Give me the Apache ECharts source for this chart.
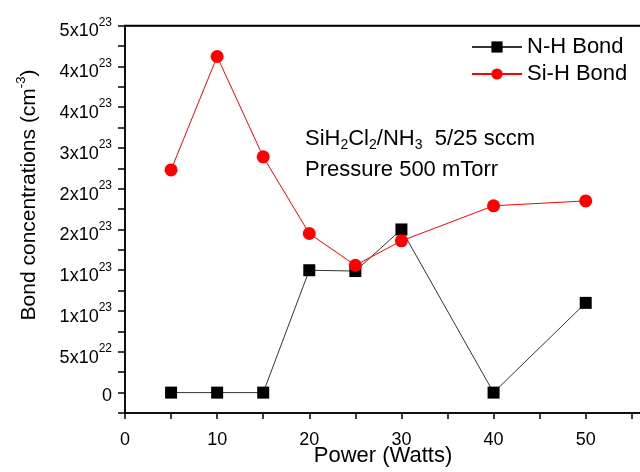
<!DOCTYPE html>
<html>
<head>
<meta charset="utf-8">
<script src="https://cdn.jsdelivr.net/npm/echarts@6/dist/echarts.min.js"></script>
<style>
  html, body { margin: 0; padding: 0; background: #fff; }
  #chart { width: 640px; height: 472px; }
</style>
</head>
<body>
<div id="chart"></div>
<script>
// data, in units of 1e22 cm^-3
const power = [5, 10, 15, 20, 25, 30, 40, 50];
const nhBond = [0, 0, 0, 15.0, 14.9, 20.0, 0, 11.0];
const sihBond = [27.3, 41.2, 28.9, 19.5, 15.6, 18.6, 22.9, 23.5];

// y tick labels as printed (value -> mantissa, exponent)
const yTickValues = [0, 5, 10, 15, 20, 25, 30, 35, 40, 45];
const yTickMant = ['0', '5x10', '1x10', '1x10', '2x10', '2x10', '3x10', '4x10', '4x10', '5x10'];
const yTickExp = ['', '22', '23', '23', '23', '23', '23', '23', '23', '23'];
const xTickLabels = [0, 10, 20, 30, 40, 50];

const FONT = 'Liberation Sans, Arial, sans-serif';

const chart = echarts.init(document.getElementById('chart'));

function pairs(ys) {
  return power.map((x, i) => [x, ys[i]]);
}

const option = {
  animation: false,
  textStyle: { fontFamily: FONT, color: '#000' },
  // right edge pushed just off the canvas so only top, left and bottom frame lines show
  grid: {
    left: 125, right: -1, top: 25.5, bottom: 59,
    outerBoundsMode: 'none',
    show: true, borderColor: '#000', borderWidth: 1.5, backgroundColor: 'transparent'
  },
  legend: {
    orient: 'vertical',
    left: 466,
    top: 31,
    itemWidth: 50,
    itemHeight: 14,
    itemGap: 5,
    textStyle: { fontSize: 22, color: '#000', fontFamily: FONT },
    data: ['N-H Bond', 'Si-H Bond']
  },
  xAxis: [
    {
      type: 'value',
      min: 0,
      max: 56,
      interval: 5,
      name: 'Power (Watts)',
      nameLocation: 'middle',
      nameGap: 32,
      nameMoveOverlap: false,
      nameTextStyle: { fontSize: 22, color: '#000' },
      axisLine: { show: true, onZero: false, lineStyle: { color: '#000', width: 1.5 } },
      axisTick: { show: true, length: 6, lineStyle: { color: '#000', width: 1.5 } },
      splitLine: { show: false },
      axisLabel: {
        margin: 18,
        fontSize: 18,
        color: '#000',
        formatter: v => (xTickLabels.indexOf(v) >= 0 ? String(v) : '')
      }
    },
    {
      type: 'value',
      position: 'top',
      min: 0,
      max: 56,
      axisLine: { show: true, onZero: false, lineStyle: { color: '#000', width: 1.5 } },
      axisTick: { show: false },
      axisLabel: { show: false },
      splitLine: { show: false }
    }
  ],
  yAxis: {
    type: 'value',
    min: -2.5,
    max: 45,
    interval: 2.5,
    axisLine: { show: true, onZero: false, lineStyle: { color: '#000', width: 1.5 } },
    axisTick: { show: true, length: 7, lineStyle: { color: '#000', width: 1.5 } },
    splitLine: { show: false },
    axisLabel: {
      margin: 13,
      padding: [6, 0, 0, 0],
      formatter: v => {
        const i = yTickValues.indexOf(v);
        if (i < 0) return '';
        if (!yTickExp[i]) return '{z|' + yTickMant[i] + '}';
        return '{n|' + yTickMant[i] + '}{s|' + yTickExp[i] + '}';
      },
      rich: {
        z: { fontSize: 18, color: '#000', fontFamily: FONT },
        n: { fontSize: 18, lineHeight: 24, verticalAlign: 'bottom', color: '#000', fontFamily: FONT },
        s: { fontSize: 12, lineHeight: 12, verticalAlign: 'top', color: '#000', fontFamily: FONT }
      }
    }
  },
  graphic: [
    {
      type: 'text',
      x: 27,
      y: 195,
      rotation: Math.PI / 2,
      style: {
        text: '{n|Bond concentrations (cm}{s|-3}{n|)}',
        align: 'center',
        verticalAlign: 'middle',
        rich: {
          n: { fontSize: 21, lineHeight: 25, verticalAlign: 'bottom', fill: '#000', fontFamily: FONT },
          s: { fontSize: 13, lineHeight: 13, verticalAlign: 'top', fill: '#000', fontFamily: FONT }
        }
      }
    },
    {
      type: 'text',
      left: 305,
      top: 122,
      style: {
        text: '{n|SiH}{b|2}{n|Cl}{b|2}{n|/NH}{b|3}{n|  5/25 sccm}',
        rich: {
          n: { fontSize: 22, lineHeight: 24, verticalAlign: 'top', fill: '#000', fontFamily: FONT },
          b: { fontSize: 14, lineHeight: 14, verticalAlign: 'bottom', padding: [16, 0, 0, 0], fill: '#000', fontFamily: FONT }
        }
      }
    },
    {
      type: 'text',
      left: 305,
      top: 159,
      style: { text: 'Pressure 500 mTorr', fontSize: 22, fill: '#000', fontFamily: FONT }
    }
  ],
  series: [
    {
      name: 'N-H Bond',
      type: 'line',
      data: pairs(nhBond),
      symbol: 'rect',
      symbolSize: 12,
      lineStyle: { color: '#333', width: 1 },
      itemStyle: { color: '#000' }
    },
    {
      name: 'Si-H Bond',
      type: 'line',
      data: pairs(sihBond),
      symbol: 'circle',
      symbolSize: 13,
      lineStyle: { color: '#ff0000', width: 1 },
      itemStyle: { color: '#ff0000' }
    }
  ]
};

chart.setOption(option);
</script>
</body>
</html>
